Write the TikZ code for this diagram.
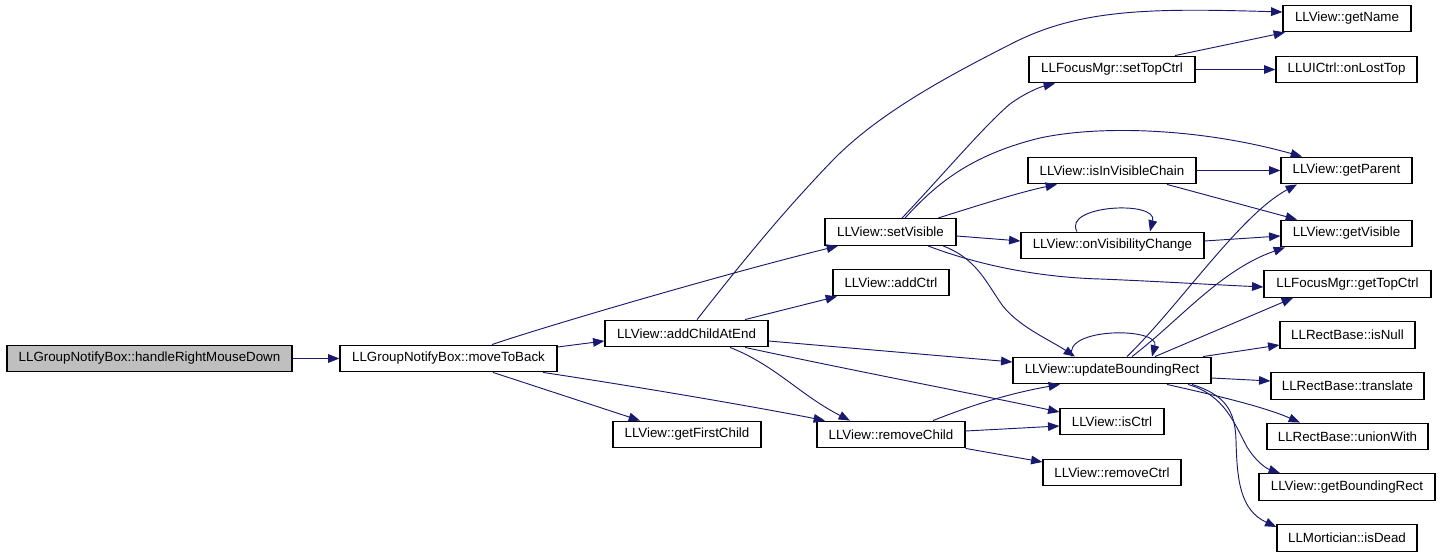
\documentclass[tikz,border=0pt]{standalone}
\usepackage{fontspec}
\setmainfont{Liberation Sans}
\usetikzlibrary{arrows.meta}
\definecolor{edgeblue}{HTML}{191970}
\definecolor{rootgray}{HTML}{BFBFBF}
\begin{document}
\begin{tikzpicture}[x=0.75pt,y=-0.75pt,
  box/.style={draw=black, line width=0.9pt, fill=white, inner sep=0pt,
    minimum height=20pt, font=\fontsize{10}{12}\selectfont},
  rootbox/.style={box, fill=rootgray},
  edge/.style={draw=edgeblue, line width=0.7pt,
    -{Triangle[length=8.5pt,width=6.5pt]}}]
\useasboundingbox (0,0) rectangle (1440,556);
\fill[white] (0,0) rectangle (1440,556);

% nodes
\node[rootbox, minimum width=213.75pt] (hrmd) at (149.5,358.5) {LLGroupNotifyBox::handleRightMouseDown};
\node[box, minimum width=162.75pt] (mtb) at (448.5,358.5) {LLGroupNotifyBox::moveToBack};
\node[box, minimum width=122.25pt] (acae) at (686.5,333.5) {LLView::addChildAtEnd};
\node[box, minimum width=98.25pt] (sv) at (890.5,232) {LLView::setVisible};
\node[box, minimum width=87pt] (addCtrl) at (891,282.5) {LLView::addCtrl};
\node[box, minimum width=111pt] (gfc) at (687,434.5) {LLView::getFirstChild};
\node[box, minimum width=111pt] (rc) at (891,434.5) {LLView::removeChild};
\node[box, minimum width=96pt] (getName) at (1347,18.5) {LLView::getName};
\node[box, minimum width=124.5pt] (setTopCtrl) at (1112,69.5) {LLFocusMgr::setTopCtrl};
\node[box, minimum width=105.75pt] (onLostTop) at (1346.5,69.5) {LLUICtrl::onLostTop};
\node[box, minimum width=126pt] (iivc) at (1112,170.5) {LLView::isInVisibleChain};
\node[box, minimum width=98.25pt] (getParent) at (1346.5,170.5) {LLView::getParent};
\node[box, minimum width=137.25pt] (ovc) at (1112.5,245.5) {LLView::onVisibilityChange};
\node[box, minimum width=98.25pt] (getVisible) at (1346.5,233.5) {LLView::getVisible};
\node[box, minimum width=125.25pt] (getTopCtrl) at (1347.5,284) {LLFocusMgr::getTopCtrl};
\node[box, minimum width=101.25pt] (isNull) at (1347.5,335) {LLRectBase::isNull};
\node[box, minimum width=114.75pt] (translate) at (1347.5,386) {LLRectBase::translate};
\node[box, minimum width=148.5pt] (ubr) at (1112,370.5) {LLView::updateBoundingRect};
\node[box, minimum width=78pt] (isCtrl) at (1112,421.5) {LLView::isCtrl};
\node[box, minimum width=103.5pt] (removeCtrl) at (1112,472.5) {LLView::removeCtrl};
\node[box, minimum width=120.75pt] (unionWith) at (1347.5,436.5) {LLRectBase::unionWith};
\node[box, minimum width=132pt] (gbr) at (1347,487) {LLView::getBoundingRect};
\node[box, minimum width=105pt] (isDead) at (1347,538) {LLMortician::isDead};

% edges
\draw[edge] (hrmd) -- (mtb);
\draw[edge] (mtb.east |- 0,347) -- (acae.west |- 0,341);
\draw[edge] (mtb.north -| 492,0) .. controls (540,328) and (720,275) .. (sv.south -| 838,0);
\draw[edge] (mtb.south -| 543,0) .. controls (620,384) and (740,404) .. (rc.north -| 825,0);
\draw[edge] (mtb.south -| 493,0) -- (gfc.north -| 640,0);

\draw[edge] (acae.north -| 697,0) .. controls (740,265) and (780,215) .. (833,160)
  .. controls (880,112) and (950,75) .. (1013,43)
  .. controls (1080,9) and (1150,8) .. (getName.west |- 0,12);
\draw[edge] (acae.north -| 745,0) -- (addCtrl.south -| 837,0);
\draw[edge] (acae.east |- 0,341) -- (ubr.west |- 0,362);
\draw[edge] (acae.south -| 730,0) .. controls (775,365) and (800,395) .. (rc.north -| 850,0);
\draw[edge] (acae.south -| 745,0) .. controls (850,370) and (980,395) .. (isCtrl.west |- 0,412);

\draw[edge] (sv.north -| 902,0) .. controls (940,178) and (985,125) .. (1010,104)
  .. controls (1025,93) and (1040,87) .. (setTopCtrl.south -| 1055,0);
\draw[edge] (sv.north -| 905,0) .. controls (935,185) and (970,155) .. (1040,138)
  .. controls (1100,125) and (1200,128) .. (getParent.north -| 1302,0);
\draw[edge] (sv.north -| 938,0) .. controls (970,208) and (1020,192) .. (iivc.south -| 1057,0);
\draw[edge] (sv.east |- 0,236) -- (ovc.west |- 0,241);
\draw[edge] (sv.south -| 928,0) .. controls (970,262) and (1030,277) .. (1100,279)
  .. controls (1150,281) and (1200,284) .. (getTopCtrl.west |- 0,287);
\draw[edge] (sv.south -| 943,0) .. controls (975,258) and (985,280) .. (1000,302)
  .. controls (1015,325) and (1050,340) .. (ubr.north -| 1075,0);

\draw[edge] (iivc) -- (getParent);
\draw[edge] (iivc.south -| 1167,0) -- (getVisible.north -| 1297,0);
\draw[edge] (ovc.north -| 1077,0) .. controls (1062,205) and (1158,200) .. (ovc.north -| 1150,0);
\draw[edge] (ovc.east |- 0,241) -- (getVisible.west |- 0,236);
\draw[edge] (setTopCtrl.north -| 1175,0) -- (getName.south -| 1285,0);
\draw[edge] (setTopCtrl) -- (onLostTop);

\draw[edge] (ubr.north -| 1072,0) .. controls (1062,327) and (1160,327) .. (ubr.north -| 1152,0);
\draw[edge] (ubr.north -| 1127,0) .. controls (1180,305) and (1240,215) .. (getParent.south -| 1297,0);
\draw[edge] (ubr.north -| 1132,0) .. controls (1180,320) and (1220,270) .. (getVisible.south -| 1285,0);
\draw[edge] (ubr.north -| 1155,0) -- (getTopCtrl.south -| 1293,0);
\draw[edge] (ubr.north -| 1203,0) -- (isNull.west |- 0,345);
\draw[edge] (ubr.east |- 0,378) -- (translate.west |- 0,381);
\draw[edge] (ubr.south -| 1167,0) .. controls (1200,392) and (1260,405) .. (unionWith.north -| 1300,0);
\draw[edge] (ubr.south -| 1188,0) .. controls (1225,395) and (1235,425) .. (1247,447)
  .. controls (1255,460) and (1265,468) .. (gbr.north -| 1280,0);
\draw[edge] (ubr.south -| 1192,0) .. controls (1225,395) and (1235,410) .. (1236,440)
  .. controls (1237,480) and (1240,510) .. (isDead.west |- 0,527);

\draw[edge] (rc.north -| 933,0) .. controls (960,410) and (1000,395) .. (ubr.south -| 1060,0);
\draw[edge] (rc.east |- 0,431) -- (isCtrl.west |- 0,426);
\draw[edge] (rc.south east) -- (removeCtrl.west |- 0,462);
\end{tikzpicture}
\end{document}
